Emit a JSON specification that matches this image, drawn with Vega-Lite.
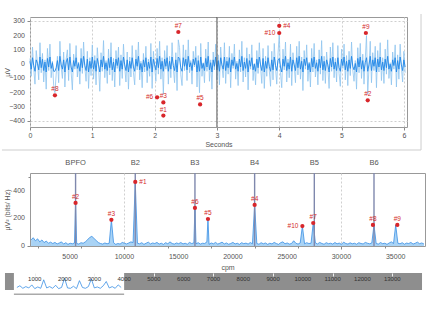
{
"$schema": "https://vega.github.io/schema/vega-lite/v6.json",
"padding": {"left": 0, "top": 12, "right": 0, "bottom": 0},
"background": "white",
"config": {
  "font": "Liberation Sans",
  "axis": {"labelFontSize": 7, "titleFontSize": 7, "labelColor": "#555", "titleColor": "#555", "titleFontWeight": "normal", "domainColor": "#888", "tickColor": "#888", "gridColor": "#cfcfcf", "gridDash": [2, 2], "tickSize": 3, "labelPadding": 1.5, "titlePadding": 1.5, "labelFlush": false},
  "view": {"stroke": "#999"}
},
"datasets": {
  "sig": [
{"t":0,"a":40,"b":20},{"t":0.02,"a":-85,"b":-35},{"t":0.04,"a":120,"b":45},{"t":0.06,"a":-30,"b":-10},{"t":0.08,"a":-140,"b":-50},{"t":0.1,"a":95,"b":30},{"t":0.12,"a":10,"b":5},{"t":0.14,"a":-110,"b":-40},{"t":0.16,"a":150,"b":50},{"t":0.18,"a":-60,"b":-25},
{"t":0.2,"a":75,"b":35},{"t":0.22,"a":-125,"b":-45},{"t":0.24,"a":30,"b":15},{"t":0.26,"a":-175,"b":-55},{"t":0.28,"a":110,"b":40},{"t":0.3,"a":-45,"b":-20},{"t":0.32,"a":140,"b":50},{"t":0.34,"a":-95,"b":-30},{"t":0.36,"a":20,"b":10},{"t":0.38,"a":-150,"b":-50},
{"t":0.4,"a":-200,"b":-50},{"t":0.42,"a":-70,"b":-25},{"t":0.44,"a":55,"b":25},{"t":0.46,"a":-130,"b":-45},{"t":0.48,"a":160,"b":55},{"t":0.5,"a":-20,"b":-5},{"t":0.52,"a":-100,"b":-35},{"t":0.54,"a":85,"b":30},{"t":0.56,"a":-160,"b":-55},{"t":0.58,"a":35,"b":15},
{"t":0.6,"a":100,"b":40},{"t":0.62,"a":-115,"b":-40},{"t":0.64,"a":145,"b":50},{"t":0.66,"a":-55,"b":-20},{"t":0.68,"a":-180,"b":-55},{"t":0.7,"a":70,"b":25},{"t":0.72,"a":-35,"b":-15},{"t":0.74,"a":130,"b":45},{"t":0.76,"a":-90,"b":-30},{"t":0.78,"a":15,"b":5},
{"t":0.8,"a":-140,"b":-50},{"t":0.82,"a":110,"b":40},{"t":0.84,"a":-65,"b":-25},{"t":0.86,"a":155,"b":55},{"t":0.88,"a":-25,"b":-10},{"t":0.9,"a":-120,"b":-45},{"t":0.92,"a":90,"b":35},{"t":0.94,"a":-170,"b":-55},{"t":0.96,"a":45,"b":20},{"t":0.98,"a":-80,"b":-30},
{"t":1.0,"a":135,"b":50},{"t":1.02,"a":-105,"b":-35},{"t":1.04,"a":60,"b":25},{"t":1.06,"a":-145,"b":-50},{"t":1.08,"a":115,"b":40},{"t":1.1,"a":-10,"b":-5},{"t":1.12,"a":-190,"b":-55},{"t":1.14,"a":80,"b":30},{"t":1.16,"a":-50,"b":-20},{"t":1.18,"a":165,"b":55},
{"t":1.2,"a":-95,"b":-35},{"t":1.22,"a":25,"b":10},{"t":1.24,"a":-135,"b":-45},{"t":1.26,"a":105,"b":40},{"t":1.28,"a":-75,"b":-25},{"t":1.3,"a":150,"b":50},{"t":1.32,"a":-115,"b":-40},{"t":1.34,"a":40,"b":15},{"t":1.36,"a":-160,"b":-55},{"t":1.38,"a":95,"b":35},
{"t":1.4,"a":-30,"b":-10},{"t":1.42,"a":120,"b":45},{"t":1.44,"a":-150,"b":-50},{"t":1.46,"a":65,"b":25},{"t":1.48,"a":-100,"b":-35},{"t":1.5,"a":140,"b":50},{"t":1.52,"a":-20,"b":-5},{"t":1.54,"a":-125,"b":-45},{"t":1.56,"a":85,"b":30},{"t":1.58,"a":-175,"b":-55},
{"t":1.6,"a":50,"b":20},{"t":1.62,"a":-90,"b":-30},{"t":1.64,"a":130,"b":45},{"t":1.66,"a":-60,"b":-20},{"t":1.68,"a":-145,"b":-50},{"t":1.7,"a":100,"b":35},{"t":1.72,"a":-40,"b":-15},{"t":1.74,"a":155,"b":55},{"t":1.76,"a":-110,"b":-40},{"t":1.78,"a":20,"b":5},
{"t":1.8,"a":-165,"b":-55},{"t":1.82,"a":75,"b":30},{"t":1.84,"a":-55,"b":-20},{"t":1.86,"a":125,"b":45},{"t":1.88,"a":-130,"b":-45},{"t":1.9,"a":35,"b":15},{"t":1.92,"a":-85,"b":-30},{"t":1.94,"a":145,"b":50},{"t":1.96,"a":-170,"b":-55},{"t":1.98,"a":90,"b":35},
{"t":2.0,"a":-15,"b":-5},{"t":2.02,"a":-120,"b":-40},{"t":2.04,"a":110,"b":40},{"t":2.06,"a":-70,"b":-25},{"t":2.08,"a":160,"b":55},{"t":2.1,"a":-105,"b":-35},{"t":2.12,"a":45,"b":20},{"t":2.14,"a":-210,"b":-50},{"t":2.16,"a":95,"b":35},{"t":2.18,"a":-35,"b":-15},
{"t":2.2,"a":130,"b":45},{"t":2.22,"a":-140,"b":-50},{"t":2.24,"a":55,"b":20},{"t":2.26,"a":-95,"b":-35},{"t":2.28,"a":150,"b":50},{"t":2.3,"a":-25,"b":-10},{"t":2.32,"a":-130,"b":-45},{"t":2.34,"a":80,"b":30},{"t":2.36,"a":-185,"b":-55},{"t":2.38,"a":170,"b":50},
{"t":2.4,"a":115,"b":40},{"t":2.42,"a":-75,"b":-25},{"t":2.44,"a":-150,"b":-50},{"t":2.46,"a":135,"b":45},{"t":2.48,"a":-45,"b":-15},{"t":2.5,"a":100,"b":35},{"t":2.52,"a":-115,"b":-40},{"t":2.54,"a":170,"b":55},{"t":2.56,"a":-60,"b":-20},{"t":2.58,"a":25,"b":10},
{"t":2.6,"a":-140,"b":-45},{"t":2.62,"a":90,"b":35},{"t":2.64,"a":-20,"b":-5},{"t":2.66,"a":125,"b":45},{"t":2.68,"a":-160,"b":-55},{"t":2.7,"a":60,"b":25},{"t":2.72,"a":-200,"b":-50},{"t":2.74,"a":145,"b":50},{"t":2.76,"a":-85,"b":-30},{"t":2.78,"a":10,"b":5},
{"t":2.8,"a":-130,"b":-45},{"t":2.82,"a":105,"b":40},{"t":2.84,"a":-50,"b":-20},{"t":2.86,"a":155,"b":55},{"t":2.88,"a":-120,"b":-40},{"t":2.9,"a":30,"b":10},{"t":2.92,"a":-175,"b":-55},{"t":2.94,"a":85,"b":30},{"t":2.96,"a":-40,"b":-15},{"t":2.98,"a":140,"b":50},
{"t":3.0,"a":-110,"b":-40},{"t":3.02,"a":65,"b":25},{"t":3.04,"a":-145,"b":-50},{"t":3.06,"a":120,"b":45},{"t":3.08,"a":-15,"b":-5},{"t":3.1,"a":-95,"b":-35},{"t":3.12,"a":150,"b":50},{"t":3.14,"a":-135,"b":-45},{"t":3.16,"a":50,"b":20},{"t":3.18,"a":-70,"b":-25},
{"t":3.2,"a":125,"b":45},{"t":3.22,"a":-165,"b":-55},{"t":3.24,"a":75,"b":30},{"t":3.26,"a":-30,"b":-10},{"t":3.28,"a":140,"b":50},{"t":3.3,"a":-105,"b":-35},{"t":3.32,"a":20,"b":5},{"t":3.34,"a":-150,"b":-50},{"t":3.36,"a":100,"b":35},{"t":3.38,"a":-55,"b":-20},
{"t":3.4,"a":160,"b":55},{"t":3.42,"a":-125,"b":-45},{"t":3.44,"a":45,"b":15},{"t":3.46,"a":-90,"b":-30},{"t":3.48,"a":115,"b":40},{"t":3.5,"a":-180,"b":-55},{"t":3.52,"a":70,"b":25},{"t":3.54,"a":-35,"b":-15},{"t":3.56,"a":135,"b":45},{"t":3.58,"a":-115,"b":-40},
{"t":3.6,"a":5,"b":0},{"t":3.62,"a":-145,"b":-50},{"t":3.64,"a":95,"b":35},{"t":3.66,"a":-65,"b":-25},{"t":3.68,"a":150,"b":50},{"t":3.7,"a":-20,"b":-5},{"t":3.72,"a":-135,"b":-45},{"t":3.74,"a":110,"b":40},{"t":3.76,"a":-170,"b":-55},{"t":3.78,"a":55,"b":20},
{"t":3.8,"a":-85,"b":-30},{"t":3.82,"a":130,"b":45},{"t":3.84,"a":-45,"b":-15},{"t":3.86,"a":-155,"b":-50},{"t":3.88,"a":90,"b":30},{"t":3.9,"a":-110,"b":-40},{"t":3.92,"a":145,"b":50},{"t":3.94,"a":-25,"b":-10},{"t":3.96,"a":-140,"b":-45},{"t":3.98,"a":70,"b":25},
{"t":4.0,"a":215,"b":40},{"t":4.02,"a":-60,"b":-20},{"t":4.04,"a":-165,"b":-55},{"t":4.06,"a":105,"b":35},{"t":4.08,"a":-40,"b":-15},{"t":4.1,"a":155,"b":55},{"t":4.12,"a":-125,"b":-45},{"t":4.14,"a":35,"b":10},{"t":4.16,"a":-95,"b":-35},{"t":4.18,"a":140,"b":50},
{"t":4.2,"a":-150,"b":-50},{"t":4.22,"a":80,"b":30},{"t":4.24,"a":-15,"b":-5},{"t":4.26,"a":-130,"b":-45},{"t":4.28,"a":125,"b":45},{"t":4.3,"a":-75,"b":-25},{"t":4.32,"a":160,"b":55},{"t":4.34,"a":-105,"b":-35},{"t":4.36,"a":50,"b":20},{"t":4.38,"a":-185,"b":-55},
{"t":4.4,"a":95,"b":35},{"t":4.42,"a":-35,"b":-10},{"t":4.44,"a":135,"b":45},{"t":4.46,"a":-120,"b":-40},{"t":4.48,"a":15,"b":5},{"t":4.5,"a":-160,"b":-55},{"t":4.52,"a":110,"b":40},{"t":4.54,"a":-55,"b":-20},{"t":4.56,"a":145,"b":50},{"t":4.58,"a":-90,"b":-30},
{"t":4.6,"a":30,"b":10},{"t":4.62,"a":-145,"b":-50},{"t":4.64,"a":100,"b":35},{"t":4.66,"a":-70,"b":-25},{"t":4.68,"a":165,"b":55},{"t":4.7,"a":-115,"b":-40},{"t":4.72,"a":55,"b":20},{"t":4.74,"a":-135,"b":-45},{"t":4.76,"a":85,"b":30},{"t":4.78,"a":-25,"b":-5},
{"t":4.8,"a":-170,"b":-55},{"t":4.82,"a":120,"b":40},{"t":4.84,"a":-50,"b":-20},{"t":4.86,"a":150,"b":50},{"t":4.88,"a":-95,"b":-35},{"t":4.9,"a":40,"b":15},{"t":4.92,"a":-125,"b":-45},{"t":4.94,"a":130,"b":45},{"t":4.96,"a":-65,"b":-25},{"t":4.98,"a":-155,"b":-50},
{"t":5.0,"a":105,"b":35},{"t":5.02,"a":-30,"b":-10},{"t":5.04,"a":140,"b":50},{"t":5.06,"a":-110,"b":-40},{"t":5.08,"a":60,"b":20},{"t":5.1,"a":-150,"b":-50},{"t":5.12,"a":90,"b":30},{"t":5.14,"a":-80,"b":-30},{"t":5.16,"a":155,"b":55},{"t":5.18,"a":-40,"b":-15},
{"t":5.2,"a":-120,"b":-40},{"t":5.22,"a":25,"b":5},{"t":5.24,"a":-175,"b":-55},{"t":5.26,"a":115,"b":40},{"t":5.28,"a":-60,"b":-20},{"t":5.3,"a":145,"b":50},{"t":5.32,"a":-100,"b":-35},{"t":5.34,"a":70,"b":25},{"t":5.36,"a":-140,"b":-50},{"t":5.38,"a":35,"b":10},
{"t":5.4,"a":200,"b":45},{"t":5.42,"a":-210,"b":-50},{"t":5.44,"a":-20,"b":-5},{"t":5.46,"a":160,"b":55},{"t":5.48,"a":-130,"b":-45},{"t":5.5,"a":80,"b":30},{"t":5.52,"a":-45,"b":-15},{"t":5.54,"a":125,"b":45},{"t":5.56,"a":-165,"b":-55},{"t":5.58,"a":95,"b":35},
{"t":5.6,"a":-55,"b":-20},{"t":5.62,"a":150,"b":50},{"t":5.64,"a":-115,"b":-40},{"t":5.66,"a":45,"b":15},{"t":5.68,"a":-135,"b":-45},{"t":5.7,"a":105,"b":35},{"t":5.72,"a":-70,"b":-25},{"t":5.74,"a":170,"b":55},{"t":5.76,"a":-100,"b":-35},{"t":5.78,"a":10,"b":0},
{"t":5.8,"a":-145,"b":-50},{"t":5.82,"a":85,"b":30},{"t":5.84,"a":-35,"b":-10},{"t":5.86,"a":135,"b":45},{"t":5.88,"a":-160,"b":-55},{"t":5.9,"a":65,"b":25},{"t":5.92,"a":-105,"b":-35},{"t":5.94,"a":140,"b":50},{"t":5.96,"a":-25,"b":-5},{"t":5.98,"a":-125,"b":-45},
{"t":6.0,"a":90,"b":30},{"t":6.02,"a":-60,"b":-20}
  ],
  "tm": [
    {"t":0.40,"v":-218,"l":"#8"},{"t":2.04,"v":-232,"l":"#6"},{"t":2.14,"v":-268,"l":"#3"},{"t":2.14,"v":-360,"l":"#1"},{"t":2.38,"v":225,"l":"#7"},
    {"t":2.73,"v":-282,"l":"#5"},{"t":4.0,"v":268,"l":"#4"},{"t":4.0,"v":218,"l":"#10"},{"t":5.39,"v":218,"l":"#9"},{"t":5.42,"v":-253,"l":"#2"}
  ],
  "ty": [{"v":-400},{"v":-300},{"v":-200},{"v":-100},{"v":0},{"v":100},{"v":200},{"v":300}],
  "by": [{"v":0},{"v":200},{"v":400}],
  "bx": [{"v":5000},{"v":10000},{"v":15000},{"v":20000},{"v":25000},{"v":30000},{"v":35000}],
  "ox": [{"v":1000},{"v":2000},{"v":3000},{"v":4000},{"v":5000},{"v":6000},{"v":7000},{"v":8000},{"v":9000},{"v":10000},{"v":11000},{"v":12000},{"v":13000}],
  "spec": [
{"f":1400,"p":45},{"f":1600,"p":60},{"f":1800,"p":38},{"f":2000,"p":52},{"f":2200,"p":30},{"f":2400,"p":44},{"f":2600,"p":25},{"f":2800,"p":36},{"f":3000,"p":20},{"f":3200,"p":28},
{"f":3400,"p":18},{"f":3600,"p":26},{"f":3800,"p":15},{"f":4000,"p":22},{"f":4200,"p":30},{"f":4400,"p":14},{"f":4600,"p":24},{"f":4800,"p":12},{"f":5000,"p":20},{"f":5200,"p":16},
{"f":5400,"p":22},{"f":5500,"p":313},{"f":5600,"p":18},{"f":5800,"p":14},{"f":6000,"p":24},{"f":6200,"p":20},{"f":6400,"p":30},{"f":6600,"p":45},{"f":6800,"p":62},{"f":7000,"p":70},{"f":7200,"p":55},
{"f":7400,"p":40},{"f":7600,"p":25},{"f":7800,"p":18},{"f":8000,"p":14},{"f":8200,"p":22},{"f":8400,"p":16},{"f":8600,"p":20},{"f":8800,"p":190},{"f":9000,"p":24},{"f":9200,"p":12},
{"f":9400,"p":18},{"f":9600,"p":14},{"f":9800,"p":26},{"f":10000,"p":20},{"f":10200,"p":15},{"f":10400,"p":22},{"f":10600,"p":30},{"f":10800,"p":25},{"f":11000,"p":465},{"f":11200,"p":20},
{"f":11400,"p":16},{"f":11600,"p":24},{"f":11800,"p":12},{"f":12000,"p":20},{"f":12200,"p":28},{"f":12400,"p":15},{"f":12600,"p":22},{"f":12800,"p":18},{"f":13000,"p":26},{"f":13200,"p":14},
{"f":13400,"p":20},{"f":13600,"p":12},{"f":13800,"p":24},{"f":14000,"p":16},{"f":14200,"p":30},{"f":14400,"p":18},{"f":14600,"p":14},{"f":14800,"p":22},{"f":15000,"p":17},{"f":15200,"p":25},
{"f":15400,"p":15},{"f":15600,"p":20},{"f":15800,"p":13},{"f":16000,"p":26},{"f":16200,"p":18},{"f":16400,"p":22},{"f":16500,"p":276},{"f":16600,"p":16},{"f":16800,"p":24},{"f":17000,"p":14},{"f":17200,"p":20},
{"f":17400,"p":18},{"f":17600,"p":30},{"f":17700,"p":196},{"f":17800,"p":12},{"f":18000,"p":22},{"f":18200,"p":16},{"f":18400,"p":26},{"f":18600,"p":14},{"f":18800,"p":20},{"f":19000,"p":28},{"f":19200,"p":15},
{"f":19400,"p":22},{"f":19600,"p":13},{"f":19800,"p":18},{"f":20000,"p":26},{"f":20200,"p":15},{"f":20400,"p":20},{"f":20600,"p":12},{"f":20800,"p":24},{"f":21000,"p":17},{"f":21200,"p":21},
{"f":21400,"p":14},{"f":21600,"p":25},{"f":21800,"p":16},{"f":22000,"p":298},{"f":22200,"p":18},{"f":22400,"p":13},{"f":22600,"p":24},{"f":22800,"p":16},{"f":23000,"p":22},{"f":23200,"p":12},
{"f":23400,"p":20},{"f":23600,"p":15},{"f":23800,"p":26},{"f":24000,"p":18},{"f":24200,"p":12},{"f":24400,"p":24},{"f":24600,"p":30},{"f":24800,"p":16},{"f":25000,"p":22},{"f":25200,"p":14},
{"f":25400,"p":18},{"f":25600,"p":38},{"f":25800,"p":20},{"f":26000,"p":14},{"f":26200,"p":22},{"f":26400,"p":145},{"f":26600,"p":16},{"f":26800,"p":24},{"f":27000,"p":18},{"f":27200,"p":20},
{"f":27400,"p":167},{"f":27600,"p":22},{"f":27800,"p":15},{"f":28000,"p":26},{"f":28200,"p":18},{"f":28400,"p":13},{"f":28600,"p":24},{"f":28800,"p":17},{"f":29000,"p":20},{"f":29200,"p":14},
{"f":29400,"p":25},{"f":29600,"p":16},{"f":29800,"p":21},{"f":30000,"p":12},{"f":30200,"p":28},{"f":30400,"p":18},{"f":30600,"p":14},{"f":30800,"p":23},{"f":31000,"p":16},{"f":31200,"p":20},
{"f":31400,"p":13},{"f":31600,"p":24},{"f":31800,"p":18},{"f":32000,"p":15},{"f":32200,"p":26},{"f":32400,"p":20},{"f":32600,"p":16},{"f":32800,"p":22},{"f":33000,"p":153},{"f":33200,"p":18},
{"f":33400,"p":14},{"f":33600,"p":25},{"f":33800,"p":17},{"f":34000,"p":20},{"f":34200,"p":12},{"f":34400,"p":22},{"f":34600,"p":30},{"f":34800,"p":18},{"f":35000,"p":153},{"f":35200,"p":20},
{"f":35400,"p":16},{"f":35600,"p":24},{"f":35800,"p":13},{"f":36000,"p":21},{"f":36200,"p":18},{"f":36400,"p":26},{"f":36600,"p":14},{"f":36800,"p":20},{"f":37000,"p":28},{"f":37200,"p":17},
{"f":37400,"p":22},{"f":37600,"p":15}
  ],
  "bm": [
    {"f":5500,"p":313,"l":"#2"},{"f":11000,"p":465,"l":"#1"},{"f":8800,"p":190,"l":"#3"},{"f":16500,"p":276,"l":"#6"},{"f":17700,"p":196,"l":"#5"},
    {"f":22000,"p":298,"l":"#4"},{"f":26400,"p":145,"l":"#10"},{"f":27400,"p":167,"l":"#7"},{"f":32900,"p":153,"l":"#8"},{"f":35150,"p":153,"l":"#9"}
  ],
  "harm": [
    {"f":5500,"n":"BPFO"},{"f":11000,"n":"B2"},{"f":16500,"n":"B3"},{"f":22000,"n":"B4"},{"f":27500,"n":"B5"},{"f":33000,"n":"B6"}
  ],
  "mini": [
    {"m":400,"q":0.15},{"m":500,"q":0.25},{"m":600,"q":0.1},{"m":700,"q":0.2},{"m":800,"q":0.12},{"m":900,"q":0.3},{"m":1000,"q":0.08},{"m":1100,"q":0.18},{"m":1200,"q":0.1},{"m":1300,"q":0.6},
    {"m":1400,"q":0.12},{"m":1500,"q":0.2},{"m":1600,"q":0.1},{"m":1700,"q":0.28},{"m":1800,"q":0.08},{"m":1900,"q":0.15},{"m":2000,"q":0.7},{"m":2100,"q":0.12},{"m":2200,"q":0.1},{"m":2300,"q":0.22},
    {"m":2400,"q":0.08},{"m":2500,"q":0.55},{"m":2600,"q":0.15},{"m":2700,"q":0.1},{"m":2800,"q":0.2},{"m":2900,"q":0.65},{"m":3000,"q":0.12},{"m":3100,"q":0.18},{"m":3200,"q":0.1},{"m":3300,"q":0.25},
    {"m":3400,"q":0.5},{"m":3500,"q":0.12},{"m":3600,"q":0.2},{"m":3700,"q":0.1},{"m":3800,"q":0.3},{"m":3900,"q":0.15}
  ],
  "win": [{"s":300,"e":4000}],
  "strip": [{"s":0,"e":14000}]
},
"concat": [
  {
    "width": 377, "height": 110,
    "layer": [
      {"data": {"name": "sig"}, "mark": {"type": "line", "color": "#8ec4ef", "strokeWidth": 0.8},
       "encoding": {
         "x": {"field": "t", "type": "quantitative", "scale": {"domain": [0, 6.05], "nice": false, "zero": false},
               "axis": {"title": "Seconds", "values": [0,0.5,1,1.5,2,2.5,3,3.5,4,4.5,5,5.5,6], "labelExpr": "datum.value % 1 === 0 ? format(datum.value, 'd') : ''",
                        "tickSize": {"condition": {"test": "datum.value % 1 === 0", "value": 3}, "value": 2},
                        "gridOpacity": {"condition": {"test": "datum.value % 1 === 0", "value": 1}, "value": 0}, "domain": false}},
         "y": {"field": "a", "type": "quantitative", "scale": {"domain": [-440, 330], "nice": false, "zero": false},
               "axis": {"title": "µV", "labelExpr": "''", "titlePadding": 15, "values": [-400,-300,-200,-100,0,100,200,300], "domain": false}}
       }},
      {"data": {"name": "sig"}, "mark": {"type": "line", "color": "#2288e8", "strokeWidth": 0.9},
       "encoding": {"x": {"field": "t", "type": "quantitative", "title": "Seconds"}, "y": {"field": "b", "type": "quantitative", "title": "µV"}}},
      {"data": {"values": [{}]}, "mark": {"type": "rule", "color": "#555", "strokeWidth": 1},
       "encoding": {"x": {"datum": 3, "type": "quantitative"}}},
      {"data": {"values": [{}]}, "mark": {"type": "rule", "color": "#cdcdcd", "strokeWidth": 1},
       "encoding": {"x": {"datum": 6.275, "type": "quantitative"}, "y": {"datum": 351, "type": "quantitative"}, "y2": {"datum": -601}}},
      {"data": {"values": [{}]}, "mark": {"type": "rule", "color": "#cdcdcd", "strokeWidth": 1},
       "encoding": {"x": {"datum": -0.45, "type": "quantitative"}, "x2": {"datum": 6.275}, "y": {"datum": -601, "type": "quantitative"}}},
      {"data": {"name": "ty"}, "mark": {"type": "text", "align": "right", "baseline": "middle", "dx": -5, "fontSize": 7, "color": "#555"},
       "encoding": {"x": {"datum": 0, "type": "quantitative"}, "y": {"field": "v", "type": "quantitative", "title": "µV"}, "text": {"field": "v", "type": "quantitative", "format": "d"}}},
      {"data": {"name": "tm"}, "mark": {"type": "point", "filled": true, "color": "#d8262b", "size": 18, "opacity": 1},
       "encoding": {"x": {"field": "t", "type": "quantitative", "title": "Seconds"}, "y": {"field": "v", "type": "quantitative", "title": "µV"}}},
      {"data": {"name": "tm"}, "transform": [{"filter": "datum.l !== '#6' && datum.l !== '#10' && datum.l !== '#4'"}],
       "mark": {"type": "text", "color": "#d42a2a", "fontSize": 6.5, "dy": -6},
       "encoding": {"x": {"field": "t", "type": "quantitative", "title": "Seconds"}, "y": {"field": "v", "type": "quantitative", "title": "µV"}, "text": {"field": "l"}}},
      {"data": {"name": "tm"}, "transform": [{"filter": "datum.l === '#6' || datum.l === '#10'"}],
       "mark": {"type": "text", "color": "#d42a2a", "fontSize": 6.5, "align": "right", "dx": -4},
       "encoding": {"x": {"field": "t", "type": "quantitative", "title": "Seconds"}, "y": {"field": "v", "type": "quantitative", "title": "µV"}, "text": {"field": "l"}}},
      {"data": {"name": "tm"}, "transform": [{"filter": "datum.l === '#4'"}],
       "mark": {"type": "text", "color": "#d42a2a", "fontSize": 6.5, "align": "left", "dx": 4},
       "encoding": {"x": {"field": "t", "type": "quantitative", "title": "Seconds"}, "y": {"field": "v", "type": "quantitative", "title": "µV"}, "text": {"field": "l"}}}
    ]
  },
  {
    "concat": [
      {
        "width": 395, "height": 73,
        "layer": [
          {"data": {"name": "spec"}, "mark": {"type": "area", "color": "#a9d3f5", "opacity": 1},
           "encoding": {
             "x": {"field": "f", "type": "quantitative", "scale": {"domain": [1300, 37700], "nice": false, "zero": false},
                   "axis": {"title": "cpm", "titlePadding": 6, "values": [2000,3000,4000,5000,6000,7000,8000,9000,10000,11000,12000,13000,14000,15000,16000,17000,18000,19000,20000,21000,22000,23000,24000,25000,26000,27000,28000,29000,30000,31000,32000,33000,34000,35000,36000,37000],
                            "labelExpr": "''",
                            "tickSize": {"condition": {"test": "datum.value % 5000 === 0", "value": 3}, "value": 2},
                            "gridOpacity": {"condition": {"test": "datum.value % 5000 === 0", "value": 1}, "value": 0}, "domain": false}},
             "y": {"field": "p", "type": "quantitative", "scale": {"domain": [0, 530], "nice": false, "zero": false},
                   "axis": {"title": "µV² (bits/ Hz)", "titlePadding": 15, "values": [0,50,100,150,200,250,300,350,400,450,500],
                            "labelExpr": "''",
                            "tickSize": {"condition": {"test": "datum.value % 200 === 0", "value": 3}, "value": 2},
                            "gridOpacity": {"condition": {"test": "datum.value % 200 === 0 && datum.value > 0", "value": 1}, "value": 0}, "domain": false}}
           }},
          {"data": {"name": "spec"}, "mark": {"type": "line", "color": "#3a8fe4", "strokeWidth": 0.8},
           "encoding": {"x": {"field": "f", "type": "quantitative", "title": "cpm"}, "y": {"field": "p", "type": "quantitative", "title": "µV² (bits/ Hz)"}}},
          {"data": {"name": "harm"}, "mark": {"type": "rule", "color": "#7f88ad", "strokeWidth": 1.4},
           "encoding": {"x": {"field": "f", "type": "quantitative", "title": "cpm"}}},
          {"data": {"name": "harm"}, "mark": {"type": "text", "color": "#555", "fontSize": 7.5, "baseline": "middle"},
           "encoding": {"x": {"field": "f", "type": "quantitative", "title": "cpm"}, "y": {"datum": 603, "type": "quantitative"}, "text": {"field": "n"}}},
          {"data": {"name": "by"}, "mark": {"type": "text", "align": "right", "baseline": "middle", "dx": -5, "fontSize": 7, "color": "#555"},
           "encoding": {"x": {"datum": 1300, "type": "quantitative"}, "y": {"field": "v", "type": "quantitative", "title": "µV² (bits/ Hz)"}, "text": {"field": "v", "type": "quantitative", "format": "d"}}},
          {"data": {"name": "bx"}, "mark": {"type": "text", "align": "center", "baseline": "top", "dy": 7, "fontSize": 7, "color": "#555"},
           "encoding": {"x": {"field": "v", "type": "quantitative", "title": "cpm"}, "y": {"datum": 0, "type": "quantitative"}, "text": {"field": "v", "type": "quantitative", "format": "d"}}},
          {"data": {"name": "bm"}, "mark": {"type": "point", "filled": true, "color": "#d8262b", "size": 18, "opacity": 1},
           "encoding": {"x": {"field": "f", "type": "quantitative", "title": "cpm"}, "y": {"field": "p", "type": "quantitative", "title": "µV² (bits/ Hz)"}}},
          {"data": {"name": "bm"}, "transform": [{"filter": "datum.l !== '#10' && datum.l !== '#1'"}],
           "mark": {"type": "text", "color": "#d42a2a", "fontSize": 6.5, "dy": -6},
           "encoding": {"x": {"field": "f", "type": "quantitative", "title": "cpm"}, "y": {"field": "p", "type": "quantitative", "title": "µV² (bits/ Hz)"}, "text": {"field": "l"}}},
          {"data": {"name": "bm"}, "transform": [{"filter": "datum.l === '#10'"}],
           "mark": {"type": "text", "color": "#d42a2a", "fontSize": 6.5, "align": "right", "dx": -4},
           "encoding": {"x": {"field": "f", "type": "quantitative", "title": "cpm"}, "y": {"field": "p", "type": "quantitative", "title": "µV² (bits/ Hz)"}, "text": {"field": "l"}}},
          {"data": {"name": "bm"}, "transform": [{"filter": "datum.l === '#1'"}],
           "mark": {"type": "text", "color": "#d42a2a", "fontSize": 6.5, "align": "left", "dx": 4},
           "encoding": {"x": {"field": "f", "type": "quantitative", "title": "cpm"}, "y": {"field": "p", "type": "quantitative", "title": "µV² (bits/ Hz)"}, "text": {"field": "l"}}}
        ]
      },
      {
        "width": 395, "height": 17,
        "view": {"stroke": null},
        "layer": [
          {"data": {"name": "strip"}, "mark": {"type": "rect", "color": "#8e8e8e"},
           "encoding": {
             "x": {"field": "s", "type": "quantitative", "scale": {"domain": [840, 14100], "nice": false, "zero": false},
                   "axis": {"orient": "bottom", "offset": -17, "zindex": 2, "values": [1000,2000,3000,4000,5000,6000,7000,8000,9000,10000,11000,12000,13000], "labelExpr": "''",
                            "domain": false, "grid": false, "tickColor": "#eee", "title": null, "tickSize": 3}},
             "x2": {"field": "e"}
           }},
          {"data": {"name": "win"}, "mark": {"type": "rect", "color": "#ffffff"},
           "encoding": {"x": {"field": "s", "type": "quantitative", "title": null}, "x2": {"field": "e"}}},
          {"data": {"name": "mini"}, "mark": {"type": "line", "color": "#3a8fe4", "strokeWidth": 0.8},
           "encoding": {"x": {"field": "m", "type": "quantitative", "title": null}, "y": {"field": "q", "type": "quantitative", "scale": {"domain": [0, 1], "nice": false}, "axis": null}}},
          {"data": {"name": "ox"}, "mark": {"type": "text", "align": "center", "baseline": "top", "dy": 3, "fontSize": 6, "color": "#333"},
           "encoding": {"x": {"field": "v", "type": "quantitative", "title": null}, "y": {"datum": 1, "type": "quantitative", "axis": null}, "text": {"field": "v", "type": "quantitative", "format": "d"}}},
          {"data": {"name": "win"}, "mark": {"type": "rule", "color": "#aaa", "strokeWidth": 1.5},
           "encoding": {"x": {"field": "s", "type": "quantitative", "title": null}, "x2": {"field": "e"}, "y": {"datum": -0.25, "type": "quantitative", "axis": null}}}
        ]
      }
    ],
    "columns": 1, "spacing": 1
  }
],
"columns": 1, "spacing": 7
}
